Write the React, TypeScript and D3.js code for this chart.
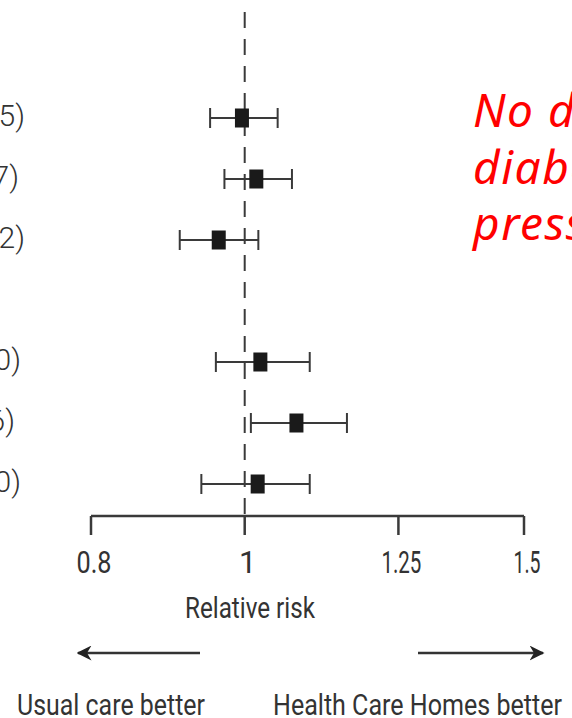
import React from "react";
import * as d3 from "d3";

const rowIndex = [0, 1, 2, 4, 5, 6];
const estimates = [0.996, 1.017, 0.963, 1.023, 1.078, 1.019];
const lower = [0.951, 0.971, 0.91, 0.959, 1.009, 0.939];
const upper = [1.049, 1.071, 1.02, 1.099, 1.16, 1.099];
const tickValues = [0.8, 1, 1.25, 1.5];
const tickLabels = ["0.8", "1", "1.25", "1.5"];
const axisTitle = "Relative risk";
const leftLabel = "Usual care better";
const rightLabel = "Health Care Homes better";
const noteLines = ["No difference in", "diabetes or blood", "pressure control"];

// layout (not data)
const labelRight = [25, 19, 25, 21, 15, 21];
const tickLabelWidth = [35, 0, 40, 27];
const W = 572;
const H = 718;
const FONT = "Roboto, 'Liberation Sans', sans-serif";

export default function App() {
  const x = d3.scaleLog().domain([0.8, 1.5]).range([91, 524]);
  const y = d3.scaleLinear().domain([0, 6]).range([118, 484]);
  const axisY = 516;
  const ink = "#3a3a3a";
  const fmt = (v: number) => v.toFixed(2);

  return (
    <div style={{ position: "absolute", left: 0, top: 0 }}>
      <svg width={W} height={H} style={{ display: "block", background: "#fff" }}>
        {/* reference line */}
        <line
          x1={x(1)}
          x2={x(1)}
          y1={12}
          y2={axisY}
          stroke={ink}
          strokeWidth={2}
          strokeDasharray="16 11"
        />
        {/* rows */}
        {rowIndex.map((ri, i) => {
          const cy = y(ri);
          return (
            <g key={i}>
              <text
                x={labelRight[i]}
                y={cy + 8}
                textAnchor="end"
                fontFamily={FONT}
                fontSize={30}
                fontWeight={300}
                fill="#333"
              >
                {`${fmt(estimates[i])} (${fmt(lower[i])}-${fmt(upper[i])})`}
              </text>
              <line x1={x(lower[i])} x2={x(upper[i])} y1={cy} y2={cy} stroke={ink} strokeWidth={2} />
              <line x1={x(lower[i])} x2={x(lower[i])} y1={cy - 10} y2={cy + 10} stroke={ink} strokeWidth={2} />
              <line x1={x(upper[i])} x2={x(upper[i])} y1={cy - 10} y2={cy + 10} stroke={ink} strokeWidth={2} />
              <rect x={x(estimates[i]) - 7} y={cy - 9.5} width={14} height={19} fill="#1a1a1a" />
            </g>
          );
        })}
        {/* axis */}
        <line x1={x(0.8)} x2={x(1.5)} y1={axisY} y2={axisY} stroke={ink} strokeWidth={2.5} />
        {tickValues.map((t, i) => (
          <g key={t}>
            <line x1={x(t)} x2={x(t)} y1={axisY} y2={axisY + 19} stroke={ink} strokeWidth={2.5} />
            {tickLabelWidth[i] > 0 ? (
              <text
                x={x(t) + 3 - tickLabelWidth[i] / 2}
                y={573}
                fontFamily={FONT}
                fontSize={31}
                fill="#333"
                textLength={tickLabelWidth[i]}
                lengthAdjust="spacingAndGlyphs"
              >
                {tickLabels[i]}
              </text>
            ) : (
              <text x={x(t) + 3} y={573} textAnchor="middle" fontFamily={FONT} fontSize={31} fill="#333">
                {tickLabels[i]}
              </text>
            )}
          </g>
        ))}
        <text x={185} y={618} fontFamily={FONT} fontSize={29} fill="#333" textLength={130} lengthAdjust="spacingAndGlyphs">
          {axisTitle}
        </text>
        {/* arrows */}
        <defs>
          <marker id="ah" viewBox="0 0 10 10" refX={9} refY={5} markerWidth={6} markerHeight={6} orient="auto-start-reverse">
            <path d="M0,0 L10,5 L0,10 L3,5 Z" fill="#222" />
          </marker>
        </defs>
        <line x1={200} x2={78} y1={653} y2={653} stroke="#333" strokeWidth={2.5} markerEnd="url(#ah)" />
        <line x1={418} x2={543} y1={653} y2={653} stroke="#333" strokeWidth={2.5} markerEnd="url(#ah)" />
        <text x={17} y={715} fontFamily={FONT} fontSize={29} fill="#333" textLength={188} lengthAdjust="spacingAndGlyphs">
          {leftLabel}
        </text>
        <text x={273} y={715} fontFamily={FONT} fontSize={29} fill="#333" textLength={289} lengthAdjust="spacingAndGlyphs">
          {rightLabel}
        </text>
        {/* note */}
        {noteLines.map((l, i) => (
          <text
            key={i}
            x={473}
            y={127 + i * 56.5}
            fontFamily="'Noto Sans', 'Open Sans', sans-serif"
            fontStyle="italic"
            fontSize={46}
            letterSpacing={1.5}
            fill="#ff0000"
          >
            {l}
          </text>
        ))}
      </svg>
    </div>
  );
}
